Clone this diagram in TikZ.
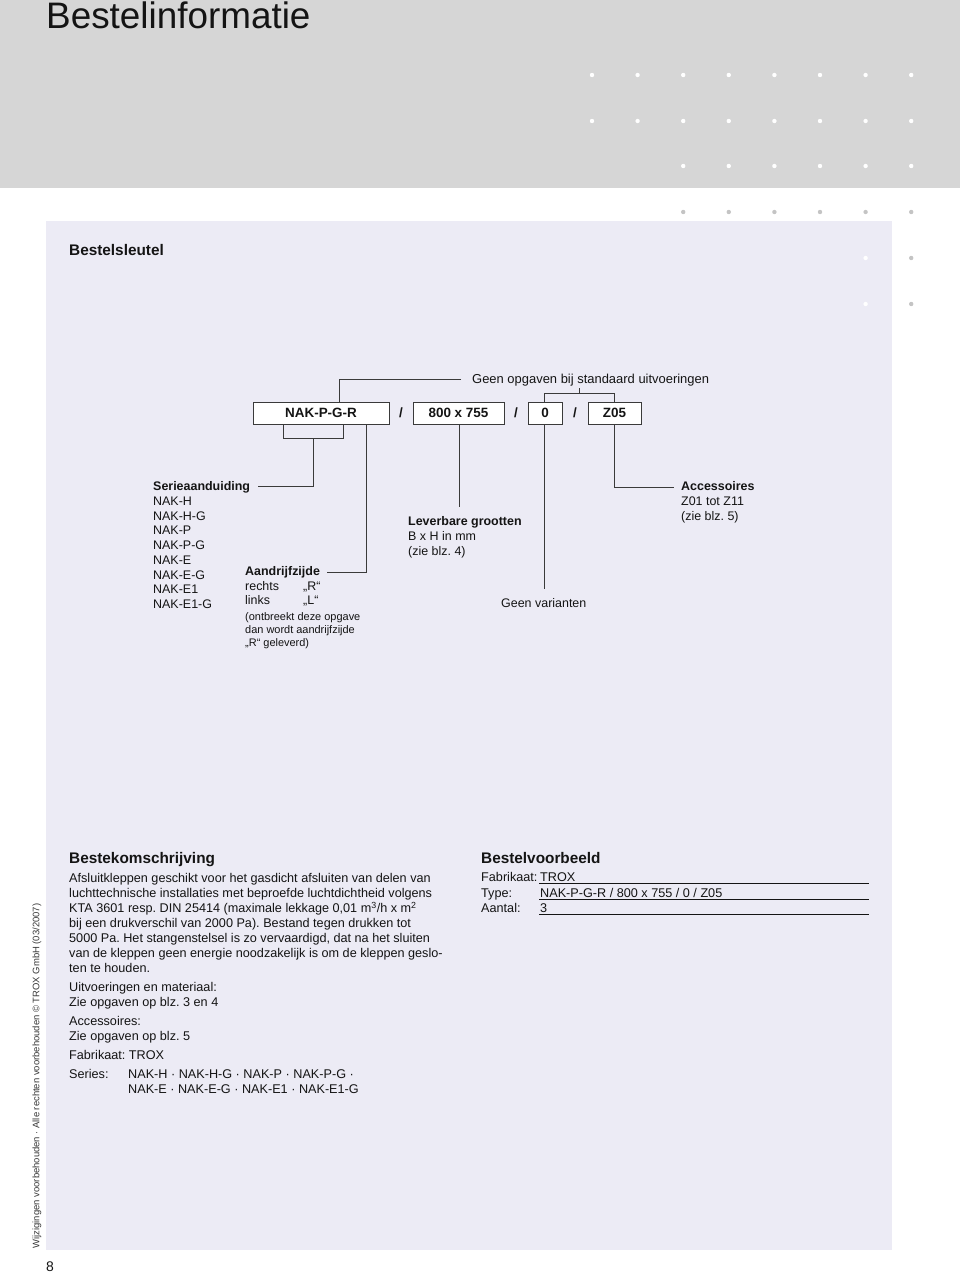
\documentclass[tikz,border=0pt]{standalone}
\usepackage{fontspec}
\setmainfont{Liberation Sans}
\frenchspacing
\newcommand\fsz[1]{\fontsize{#1}{#1}\selectfont}
\definecolor{headgray}{HTML}{D6D6D6}
\definecolor{panelc}{HTML}{ECEBF5}
\definecolor{linec}{HTML}{3A3A3A}
\definecolor{dotgray}{HTML}{C4C4C4}
\definecolor{txt}{HTML}{141414}
\begin{document}
\frenchspacing
\begin{tikzpicture}[x=1bp,y=-1bp,
  conn/.style={draw=linec, line width=0.8bp},
  keybox/.style={draw=linec, line width=0.8bp, fill=white, inner sep=0pt, minimum height=22bp, font=\fsz{13.5}\bfseries, text=txt},
  slash/.style={inner sep=0pt, font=\fsz{13.5}\bfseries, text=txt},
  tx/.style={anchor=base west, inner sep=0pt, font=\fsz{12.5}, text=txt},
  txb/.style={tx, font=\fsz{12.5}\bfseries},
  txs/.style={tx, font=\fsz{11}},
  body/.style={anchor=base west, inner sep=0pt, font=\fsz{12.7}, text=txt},
  head/.style={anchor=base west, inner sep=0pt, font=\fsz{15.4}\bfseries, text=txt},
  wdot/.style={fill=white},
  gdot/.style={fill=dotgray}]
\useasboundingbox (0,0) rectangle (960,1273);
% background
\fill[headgray] (0,0) rectangle (960,188);
\fill[panelc] (46,221) rectangle (892,1250);
% dots
\foreach \i in {0,...,7} {
  \fill[wdot] ({592+45.6*\i},75) circle (2.2);
  \fill[wdot] ({592+45.6*\i},121) circle (2.2);
}
\foreach \i in {2,...,7} {
  \fill[wdot] ({592+45.6*\i},166) circle (2.2);
  \fill[gdot] ({592+45.6*\i},212) circle (2.2);
}
\fill[wdot] ({592+45.6*6},258) circle (2.2);
\fill[gdot] ({592+45.6*7},258) circle (2.2);
\fill[wdot] ({592+45.6*6},304) circle (2.2);
\fill[gdot] ({592+45.6*7},304) circle (2.2);
% titles
\node (title) [anchor=base west, inner sep=0pt, font=\fsz{37}, text=txt] at (46,28) {Bestelinformatie};
\node (sleutel) [head] at (69,255.5) {Bestelsleutel};
% order key
\node (box1) [keybox, minimum width=136bp] at (321,413) {NAK-P-G-R};
\node (s1) [slash] at (401,413) {/};
\node (box2) [keybox, minimum width=91bp] at (458.5,413) {800 x 755};
\node (s2) [slash] at (516,413) {/};
\node (box3) [keybox, minimum width=34bp] at (545,413) {0};
\node (s3) [slash] at (575,413) {/};
\node (box4) [keybox, minimum width=53bp] at (614.5,413) {Z05};
\node (geen) [anchor=base west, inner sep=0pt, font=\fsz{13}, text=txt] at (472,383.7) {Geen opgaven bij standaard uitvoeringen};
% coordinates
\coordinate (gl) at (461,379);
\coordinate (gc) at (339,379);
\coordinate (b3t) at (544,402);
\coordinate (b4t) at (614,402);
\coordinate (brk) at (544,393);
\coordinate (brk2) at (614,393);
\coordinate (tick) at (579,393);
\coordinate (tickt) at (579,388);
\coordinate (b1a) at (283,424);
\coordinate (b1b) at (343,424);
\coordinate (b1l) at (283,438);
\coordinate (b1r) at (343,438);
\coordinate (b1m) at (313,438);
\coordinate (serE) at (258,486);
\coordinate (b1c) at (366,424);
\coordinate (aanE) at (327,572);
\coordinate (b2b) at (459,424);
\coordinate (levE) at (459,507);
\coordinate (b3b) at (544,424);
\coordinate (varE) at (544,589);
\coordinate (b4b) at (614,424);
\coordinate (accE) at (674,487);
% connectors
\draw[conn] (gl) -- (gc) -- (gc |- box1.north);
\draw[conn] (b3t) -- (brk) -- (brk2) -- (b4t);
\draw[conn] (tick) -- (tickt);
\draw[conn] (b1a) -- (b1l) -- (b1r) -- (b1b);
\draw[conn] (b1m) |- (serE);
\draw[conn] (b1c) |- (aanE);
\draw[conn] (b2b) -- (levE);
\draw[conn] (b3b) -- (varE);
\draw[conn] (b4b) |- (accE);
% Serieaanduiding
\node (ser) [txb] at (153,490.5) {Serieaanduiding};
\foreach \t [count=\k] in {NAK-H,NAK-H-G,NAK-P,NAK-P-G,NAK-E,NAK-E-G,NAK-E1,NAK-E1-G}
  \node (ser\k) [tx] at (153,{490.5+14.75*\k}) {\t};
% Aandrijfzijde
\node (aan) [txb] at (245,575.5) {Aandrijfzijde};
\node (re) [tx] at (245,590.5) {rechts};
\node (reR) [tx] at (303,590.5) {„R“};
\node (li) [tx] at (245,604.8) {links};
\node (liL) [tx] at (303,604.8) {„L“};
\node (on1) [txs] at (245,620.9) {(ontbreekt deze opgave};
\node (on2) [txs] at (245,633.9) {dan wordt aandrijfzijde};
\node (on3) [txs] at (245,646.9) {„R“ geleverd)};
% Leverbare
\node (lev) [txb] at (408,525.5) {Leverbare grootten};
\node (lev1) [tx] at (408,540.5) {B x H in mm};
\node (lev2) [tx] at (408,555.5) {(zie blz. 4)};
% Geen varianten
\node (var) [tx] at (501,607.5) {Geen varianten};
% Accessoires
\node (acc) [txb] at (681,490.5) {Accessoires};
\node (acc1) [tx] at (681,505.5) {Z01 tot Z11};
\node (acc2) [tx] at (681,520.5) {(zie blz. 5)};
% Bestekomschrijving
\node (bk) [head] at (69,863.5) {Bestekomschrijving};
\node (bk1) [body] at (69,882.5) {Afsluitkleppen geschikt voor het gasdicht afsluiten van delen van};
\node (bk2) [body] at (69,897.5) {luchttechnische installaties met beproefde luchtdichtheid volgens};
\node (bk3) [body] at (69,912.5) {KTA 3601 resp. DIN 25414 (maximale lekkage 0,01 m\textsuperscript{3}/h x m\textsuperscript{2}};
\node (bk4) [body] at (69,927.5) {bij een drukverschil van 2000 Pa). Bestand tegen drukken tot};
\node (bk5) [body] at (69,942.5) {5000 Pa. Het stangenstelsel is zo vervaardigd, dat na het sluiten};
\node (bk6) [body] at (69,957.5) {van de kleppen geen energie noodzakelijk is om de kleppen geslo-};
\node (bk7) [body] at (69,972.5) {ten te houden.};
\node (bk8) [body] at (69,991.5) {Uitvoeringen en materiaal:};
\node (bk9) [body] at (69,1006.5) {Zie opgaven op blz. 3 en 4};
\node (bk10) [body] at (69,1025.5) {Accessoires:};
\node (bk11) [body] at (69,1040.5) {Zie opgaven op blz. 5};
\node (bk12) [body] at (69,1059.5) {Fabrikaat: TROX};
\node (bk13) [body] at (69,1078.5) {Series:};
\node (bk14) [body] at (128,1078.5) {NAK-H · NAK-H-G · NAK-P · NAK-P-G ·};
\node (bk15) [body] at (128,1093.5) {NAK-E · NAK-E-G · NAK-E1 · NAK-E1-G};
% Bestelvoorbeeld
\node (bv) [head] at (481,863.5) {Bestelvoorbeeld};
\node (bv1) [body] at (481,881.5) {Fabrikaat:};
\node (bv2) [body] at (481,897) {Type:};
\node (bv3) [body] at (481,912.5) {Aantal:};
\node (bv1v) [body] at (540,881.5) {TROX};
\node (bv2v) [body] at (540,897) {NAK-P-G-R / 800 x 755 / 0 / Z05};
\node (bv3v) [body] at (540,912.5) {3};
\coordinate (u1a) at (539,883.5); \coordinate (u1b) at (869,883.5);
\coordinate (u2a) at (539,899); \coordinate (u2b) at (869,899);
\coordinate (u3a) at (539,914.5); \coordinate (u3b) at (869,914.5);
\draw[draw=txt, line width=0.7bp] (u1a) -- (u1b);
\draw[draw=txt, line width=0.7bp] (u2a) -- (u2b);
\draw[draw=txt, line width=0.7bp] (u3a) -- (u3b);
% side text
\node (side) [rotate=90, inner sep=0pt, font=\fsz{9.5}, text=txt!85] at (37,1076) {Wijzigingen voorbehouden · Alle rechten voorbehouden © TROX GmbH (03/2007)};
\node (page) [inner sep=0pt, font=\fsz{14}, text=txt] at (50,1267) {8};
\end{tikzpicture}
\end{document}
